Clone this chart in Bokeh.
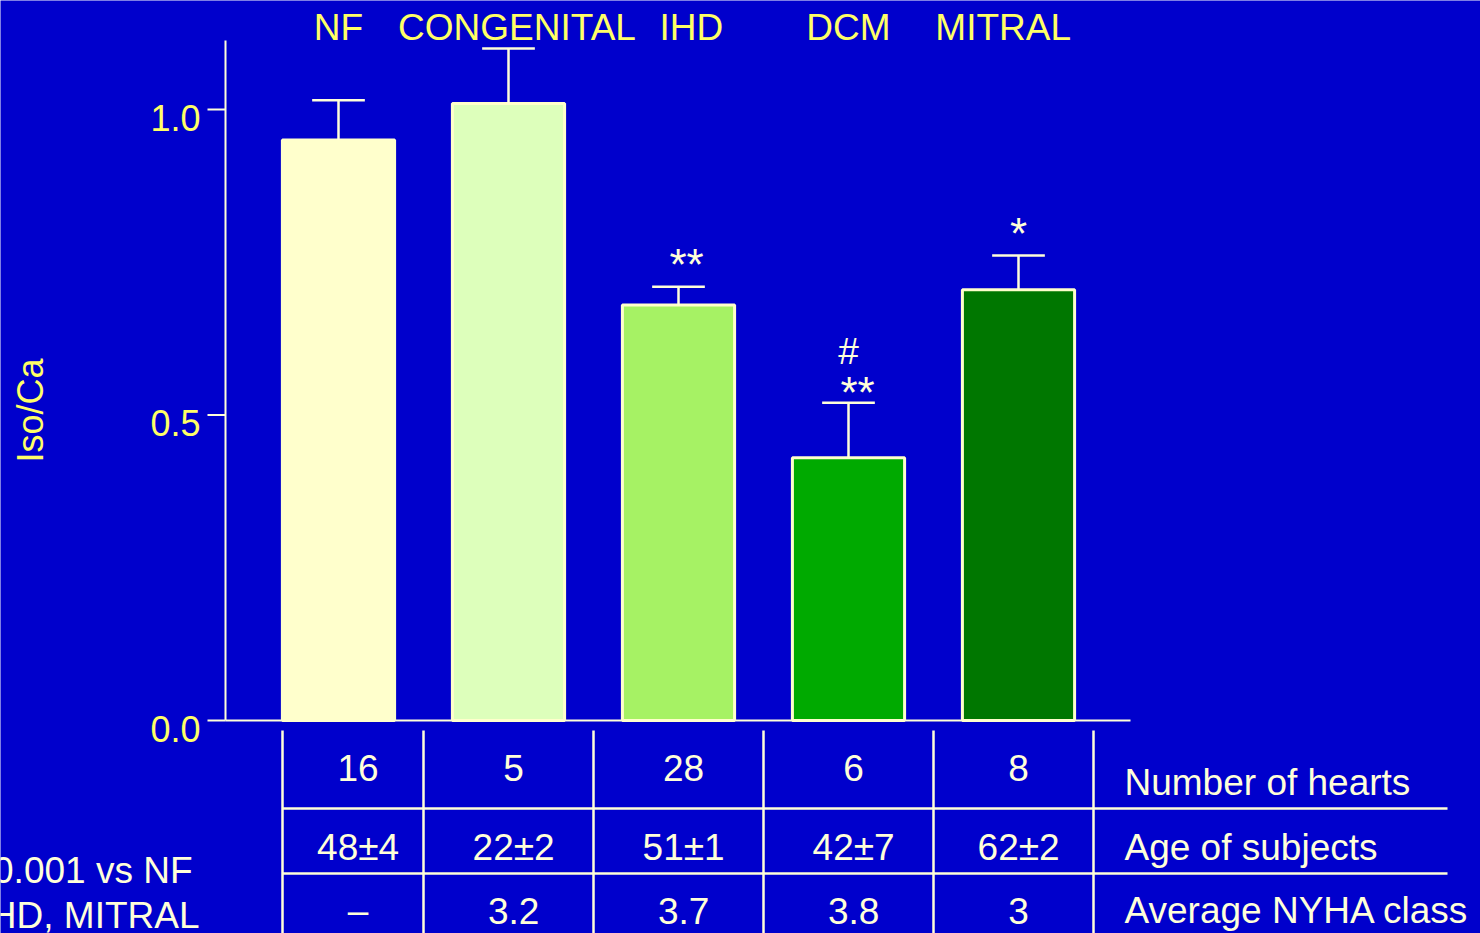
from math import pi
from bokeh.plotting import figure
from bokeh.models import Range1d, ColumnDataSource
from bokeh.core.properties import value
from bokeh.embed import file_html
from bokeh.resources import INLINE

# ---- data ----
groups = ["NF", "CONGENITAL", "IHD", "DCM", "MITRAL"]
iso_ca_mean = [0.95, 1.01, 0.68, 0.43, 0.705]
iso_ca_sem = [0.065, 0.09, 0.03, 0.09, 0.056]
sig_vs_nf = ["", "", "**", "**", "*"]
sig_vs_other = ["", "", "", "#", ""]
n_hearts = ["16", "5", "28", "6", "8"]
age_subjects = ["48±4", "22±2", "51±1", "42±7", "62±2"]
nyha_class = ["–", "3.2", "3.7", "3.8", "3"]
row_titles = ["Number of hearts", "Age of subjects", "Average NYHA class"]
y_ticks = [0.0, 0.5, 1.0]
y_tick_labels = ["0.0", "0.5", "1.0"]
footnotes = ["0.001 vs NF", "HD, MITRAL"]

# ---- style ----
BG = "#0000CC"
CREAM = "#FFFFD9"
YELLOW = "#FFFF66"
bar_colors = ["#FFFFCC", "#DDFFBB", "#A6F264", "#00AA00", "#007700"]
FONT = value("Liberation Sans")

W, H = 1480, 933
X0, STEP = 338, 170      # pixel centre of first group and spacing between groups
Y0, UNIT = 720, 611      # pixel row of Iso/Ca = 0 and pixels per unit


def px_to_x(px):
    return (px - X0) / STEP


def py_to_y(py):
    return (Y0 - py) / UNIT


xs = list(range(len(groups)))

p = figure(width=W, height=H, output_backend="svg", toolbar_location=None,
           x_range=Range1d(px_to_x(0), px_to_x(W)),
           y_range=Range1d(py_to_y(H), py_to_y(0)),
           min_border=0, background_fill_color=BG, border_fill_color=BG,
           outline_line_color=None, x_axis_type=None, y_axis_type=None)
p.grid.visible = False

# ---- axes ----
AX_L, AX_R, AX_T = px_to_x(225), px_to_x(1130), py_to_y(40)
p.segment(x0=[AX_L, AX_L], x1=[AX_L, AX_R], y0=[0, 0], y1=[AX_T, 0],
          line_color=CREAM, line_width=2)
p.segment(x0=[px_to_x(207)] * len(y_ticks), x1=[AX_L] * len(y_ticks),
          y0=y_ticks, y1=y_ticks, line_color=CREAM, line_width=2)
p.text(x=[px_to_x(200)] * len(y_ticks), y=y_ticks, text=y_tick_labels,
       y_offset=8, text_align="right", text_baseline="middle",
       text_color=YELLOW, text_font=FONT, text_font_size="36px")
p.text(x=[px_to_x(30)], y=[py_to_y(410)], text=["Iso/Ca"], angle=pi / 2,
       text_align="center", text_baseline="middle",
       text_color=YELLOW, text_font=FONT, text_font_size="36px")

# ---- bars with upper SEM whiskers ----
src = ColumnDataSource(dict(
    x=xs, top=iso_ca_mean, color=bar_colors,
    err=[m + s for m, s in zip(iso_ca_mean, iso_ca_sem)],
    cap0=[x - 0.155 for x in xs], cap1=[x + 0.155 for x in xs],
    sig1=sig_vs_nf, sig2=sig_vs_other,
    dx1=[0, 0, 8, 9, 0], dy1=[0, 0, -22, -10, -22],
))

p.vbar(x="x", top="top", bottom=0, width=0.66, source=src,
       fill_color="color", line_color="#FFFFCC", line_width=3)
p.segment(x0="x", x1="x", y0="top", y1="err", source=src,
          line_color=CREAM, line_width=2.5)
p.segment(x0="cap0", x1="cap1", y0="err", y1="err", source=src,
          line_color=CREAM, line_width=2.5)

p.text(x="x", y="err", text="sig1", source=src, x_offset="dx1", y_offset="dy1",
       text_align="center", text_baseline="alphabetic",
       text_color=CREAM, text_font=FONT, text_font_size="44px")
p.text(x="x", y="err", text="sig2", source=src, y_offset=-51,
       text_align="center", text_baseline="alphabetic",
       text_color=CREAM, text_font=FONT, text_font_size="37px")

# group names along the top
name_nudge = [0.0, 0.05, 0.075, 0.0, -0.09]
p.text(x=[i + d for i, d in zip(xs, name_nudge)], y=[py_to_y(27)] * len(groups),
       text=groups, text_align="center", text_baseline="middle",
       text_color=YELLOW, text_font=FONT, text_font_size="37px")

# ---- table underneath ----
T_TOP, T_BOT = py_to_y(730), py_to_y(H + 5)
edges = [px_to_x(282)] + [i + 0.5 for i in xs[:-1]] + [px_to_x(1093)]
p.segment(x0=edges, x1=edges, y0=[T_TOP] * len(edges), y1=[T_BOT] * len(edges),
          line_color=CREAM, line_width=2.5)
rules = [py_to_y(808), py_to_y(873)]
p.segment(x0=[edges[0]] * 2, x1=[px_to_x(1447)] * 2, y0=rules, y1=rules,
          line_color=CREAM, line_width=2.5)

centres = [(a + b) / 2 for a, b in zip(edges[:-1], edges[1:])]
centres = [c + 0.03 for c in centres]
for rows, py in zip([n_hearts, age_subjects, nyha_class], [767, 847, 910]):
    p.text(x=centres, y=[py_to_y(py)] * len(rows), text=rows,
           text_align="center", text_baseline="middle",
           text_color=CREAM, text_font=FONT, text_font_size="37px")

p.text(x=[px_to_x(1124)] * 3, y=[py_to_y(v) for v in (782, 847, 910)],
       text=row_titles, text_align="left", text_baseline="middle",
       text_color=CREAM, text_font=FONT, text_font_size="37px")

p.text(x=[px_to_x(192), px_to_x(199)], y=[py_to_y(870), py_to_y(915)],
       text=footnotes, text_align="right", text_baseline="middle",
       text_color=CREAM, text_font=FONT, text_font_size="37px")

html = file_html(p, INLINE)
html = html.replace("<body>", '<body style="margin:0;background:%s">' % BG, 1)
open("out.html", "w").write(html)
